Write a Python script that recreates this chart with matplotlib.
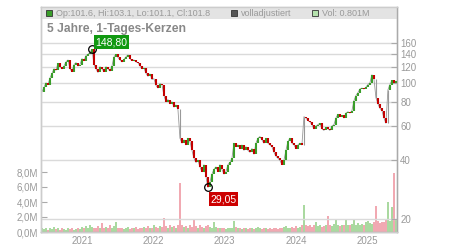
import numpy as np
import pandas as pd
import matplotlib
matplotlib.use("Agg")
import matplotlib.pyplot as plt
import matplotlib.dates as mdates
from matplotlib.patches import Rectangle
from matplotlib.ticker import FixedLocator, NullLocator, FuncFormatter

plt.rcParams['font.family'] = ['Liberation Sans', 'DejaVu Sans']

# ---- data ----
start_date = "2020-06-09"
end_date = "2025-05-28"
closes = [
    90, 95, 100, 98, 106, 112, 118, 116, 126, 121,
    118, 122, 128, 131, 118, 114, 124, 127, 122, 124,
    133, 130, 138, 140, 143, 148.8, 124, 118, 113, 121,
    118, 114, 121, 118, 115, 122, 136, 140, 135, 131,
    128, 132, 136, 139, 133, 130, 131, 128, 127, 122,
    118, 119, 112, 108, 111, 104, 105, 97, 94, 99,
    98, 86, 80, 82, 78, 80, 75, 77, 73, 52,
    49, 51, 48, 52, 50, 45, 41, 39, 40, 37,
    35, 38, 33, 29.05, 31, 34, 36, 37, 35, 38,
    36, 34, 35, 38, 39, 41, 49, 47, 48, 46,
    48, 45, 47, 45, 44, 46, 43, 49, 52, 53,
    51, 49, 52, 49, 48, 47, 44, 42, 41, 40,
    38, 40, 45, 50, 52, 49, 48, 46, 48, 49,
    48, 67, 66, 64, 63, 61, 58, 60, 61, 62,
    58, 57, 59, 58, 57, 60, 61, 66, 69, 67,
    68, 66, 70, 71, 70, 72, 81, 86, 89, 93,
    94, 93, 95, 98, 100, 110, 105, 84, 78, 74,
    72, 66, 62, 92, 98, 103, 100, 101.8,
]
volume_m = [
    0.5, 0.4, 0.6, 0.3, 0.5, 0.4, 0.7, 0.4, 0.5, 0.3,
    0.6, 0.4, 0.3, 0.5, 0.4, 0.6, 0.3, 0.4, 0.5, 0.4,
    0.7, 0.5, 0.8, 0.6, 0.9, 0.7, 0.5, 0.6, 0.8, 0.5,
    1.2, 0.6, 0.7, 0.5, 0.9, 0.6, 0.8, 1.4, 0.6, 0.5,
    0.6, 0.4, 0.5, 0.7, 0.4, 0.6, 0.5, 0.7, 0.4, 0.6,
    0.5, 0.7, 0.6, 0.8, 0.5, 0.6, 0.9, 0.7, 0.6, 0.8,
    0.7, 1.9, 0.8, 0.6, 0.9, 0.7, 0.8, 0.6, 0.9, 6.5,
    0.9, 0.7, 0.8, 0.6, 1.0, 0.7, 1.8, 0.8, 0.6, 0.9,
    0.7, 0.6, 0.8, 0.9, 0.7, 0.6, 1.4, 0.7, 0.5, 0.6,
    0.5, 0.6, 0.4, 0.5, 0.6, 0.5, 1.5, 0.7, 0.6, 0.5,
    0.4, 0.6, 0.5, 0.4, 0.5, 0.6, 0.4, 0.5, 0.7, 0.5,
    0.4, 0.6, 0.5, 0.4, 0.5, 0.4, 0.6, 0.5, 0.4, 0.6,
    0.5, 0.7, 0.8, 0.6, 0.5, 0.7, 0.6, 0.8, 0.6, 0.7,
    0.9, 3.6, 1.0, 0.8, 0.9, 0.7, 1.0, 1.4, 0.8, 0.9,
    0.7, 0.8, 1.0, 2.2, 0.9, 0.8, 1.1, 1.8, 0.9, 0.8,
    1.0, 0.9, 1.7, 1.0, 0.9, 1.1, 1.7, 1.0, 1.2, 0.9,
    1.1, 1.0, 1.3, 1.5, 1.2, 1.1, 1.4, 3.5, 1.5, 1.2,
    1.4, 1.3, 1.6, 4.0, 1.5, 3.3, 7.9, 1.6,
]
price_ticks = [20, 40, 60, 80, 100, 120, 140, 160]
volume_ticks = [0, 2, 4, 6, 8]
year_ticks = ["2021-01-01", "2022-01-01", "2023-01-01", "2024-01-01", "2025-01-01"]
year_labels = ["2021", "2022", "2023", "2024", "2025"]
title = "5 Jahre, 1-Tages-Kerzen"
legend_ohlc = "Op:101.6, Hi:103.1, Lo:101.1, Cl:101.8"
legend_adj = "volladjustiert"
legend_vol = "Vol: 0.801M"

# ---- styling ----
W, H = 450, 250
GREEN = "#3a9e2a"
RED = "#c40000"
VGREEN = "#aad9a0"
VRED = "#f1a9b2"
TXT = "#999999"
GRID = "#dadada"

fig = plt.figure(figsize=(W / 100, H / 100), dpi=100)
L, R, T, B = 41, 396.7, 7, 232
ax = fig.add_axes([L / W, 1 - B / H, (R - L) / W, (B - T) / H])
ax2 = ax.twinx()

closes = np.asarray(closes, float)
vol = np.asarray(volume_m, float)
dates = pd.date_range(start_date, end_date, periods=len(closes))
dn = mdates.date2num(dates.to_pydatetime())
opens = np.r_[closes[0], closes[:-1]]
up = closes >= opens
gap = np.abs(np.log(closes / opens)) > 0.2

# volume (left axis)
ax.bar(dn, vol, width=8.5, color=np.where(up, VGREEN, VRED), linewidth=0, zorder=2)
ax.set_ylim(0, 30)
ax.yaxis.set_major_locator(FixedLocator(volume_ticks))
ax.yaxis.set_major_formatter(FuncFormatter(lambda v, p: f"{v:.1f}M".replace(".", ",")))
ax.tick_params(axis='y', direction='in', length=4, pad=2, labelsize=7,
               labelcolor=TXT, color="#aaaaaa")

# price (right axis, log)
ax2.set_yscale('log')
ax2.set_ylim(17.15, 245)
ax2.yaxis.set_major_locator(FixedLocator(price_ticks))
ax2.yaxis.set_minor_locator(NullLocator())
ax2.yaxis.set_major_formatter(FuncFormatter(lambda v, p: f"{v:.0f}"))
ax2.tick_params(axis='y', direction='in', length=4, pad=2.5, labelsize=7,
                labelcolor=TXT, color="#aaaaaa")

x0 = mdates.date2num(pd.Timestamp("2020-06-04"))
x1 = mdates.date2num(pd.Timestamp("2025-06-01"))
ax.set_xlim(x0, x1)
ax.xaxis.set_major_locator(FixedLocator(mdates.date2num(pd.to_datetime(year_ticks).to_pydatetime())))
ax.set_xticklabels(year_labels)
ax.tick_params(axis='x', length=0, pad=3, labelsize=7, labelcolor=TXT)

ax2.set_axisbelow(True)
ax2.grid(True, color=GRID, linewidth=1.0)

for a in (ax, ax2):
    for s in a.spines.values():
        s.set_color("#cccccc")
        s.set_linewidth(1.0)
ax2.spines['right'].set_color("#aaaaaa")
ax.spines['bottom'].set_color("#aaaaaa")

# legend bar
ax2.add_patch(Rectangle((0, (B - 19) / (B - T)), 1, (19 - T) / (B - T),
                        transform=ax2.transAxes, facecolor="#e3e3e3",
                        edgecolor="none", zorder=1))

# candles
ax2.plot(dn, closes, color="#999999", lw=0.6, zorder=2)
normal = ~gap
ax2.vlines(dn[up & normal], opens[up & normal], closes[up & normal], color=GREEN, lw=1.5, zorder=3)
ax2.vlines(dn[~up & normal], opens[~up & normal], closes[~up & normal], color=RED, lw=1.5, zorder=3)
ax2.vlines(dn[gap], opens[gap], closes[gap], color="#999999", lw=0.8, zorder=3)

# high / low markers
imax = int(np.argmax(closes))
imin = int(np.argmin(closes))
for i in (imax, imin):
    ax2.plot(dn[i], closes[i], 'o', mfc='none', mec='black', ms=5.5, mew=0.9, zorder=5)
ax2.annotate(f"{closes[imax]:.2f}".replace(".", ","), xy=(dn[imax], closes[imax]),
             xytext=(14, 5), textcoords='offset points', ha='center', va='center',
             color='white', fontsize=7.5, zorder=6,
             bbox=dict(boxstyle='square,pad=0.18', fc='#119911', ec='none'))
ax2.annotate(f"{closes[imin]:.2f}".replace(".", ","), xy=(dn[imin], closes[imin]),
             xytext=(11.2, -8.6), textcoords='offset points', ha='center', va='center',
             color='white', fontsize=7.5, zorder=6,
             bbox=dict(boxstyle='square,pad=0.18', fc='#cc0000', ec='none'))

# title & legend texts
def fx(x):
    return x / W

def fy(y):
    return 1 - y / H

fig.text(fx(47), fy(29), title, fontsize=8.7, fontweight='bold', color="#888888",
         ha='left', va='center')
for (sx, col, label) in [(46, GREEN, legend_ohlc), (231, "#555555", legend_adj),
                         (312, "#b5e2ad", legend_vol)]:
    fig.patches.append(Rectangle((fx(sx), fy(16)), 5.5 / W, 5.5 / H, transform=fig.transFigure,
                                 facecolor=col, edgecolor="#333333", linewidth=0.6, zorder=10))
    fig.text(fx(sx + 10), fy(13.3), label, fontsize=6.5, color=TXT, ha='left', va='center', zorder=10)

fig.savefig("out.png", dpi=100)
